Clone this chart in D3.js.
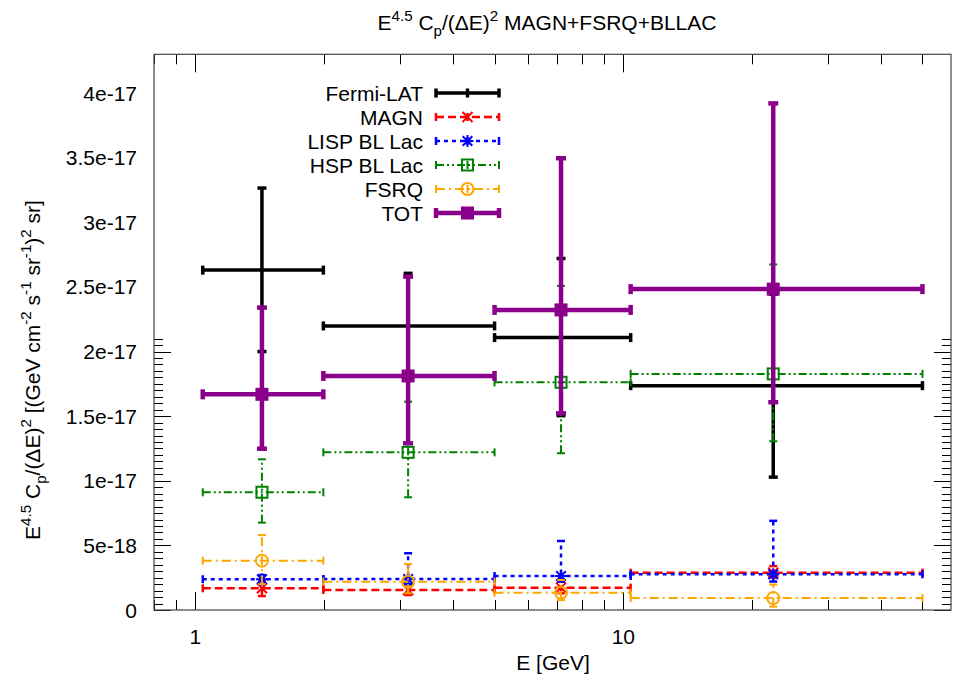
<!DOCTYPE html>
<html><head><meta charset="utf-8">
<script src="https://cdn.jsdelivr.net/npm/d3@7"></script>
<style>
body{margin:0;background:#fff;}
text{font-family:"Liberation Sans",Arial,sans-serif;fill:#000;}
</style></head>
<body>
<svg id="c" width="953" height="677"></svg>
<script>
// ---- data ----
const binEdges = [1.04, 1.99, 5.0, 10.4, 50.0];
const binCenters = [1.43, 3.14, 7.15, 22.4];

const fermiVal = [2.63e-17, 2.198e-17, 2.108e-17, 1.736e-17];
const fermiLo  = [2.0e-17, 1.796e-17, 1.504e-17, 1.028e-17];
const fermiHi  = [3.265e-17, 2.605e-17, 2.72e-17, 2.444e-17];

const magnVal = [0.168e-17, 0.155e-17, 0.173e-17, 0.289e-17];
const magnLo  = [0.108e-17, 0.116e-17, 0.13e-17, 0.25e-17];
const magnHi  = [0.23e-17, 0.20e-17, 0.22e-17, 0.34e-17];

const lispVal = [0.238e-17, 0.24e-17, 0.263e-17, 0.276e-17];
const lispLo  = [0.20e-17, 0.20e-17, 0.22e-17, 0.22e-17];
const lispHi  = [0.27e-17, 0.439e-17, 0.534e-17, 0.69e-17];

const hspVal = [0.911e-17, 1.22e-17, 1.762e-17, 1.827e-17];
const hspLo  = [0.676e-17, 0.872e-17, 1.213e-17, 1.306e-17];
const hspHi  = [1.166e-17, 1.612e-17, 2.508e-17, 2.674e-17];

const fsrqVal = [0.382e-17, 0.219e-17, 0.134e-17, 0.092e-17];
const fsrqLo  = [0.20e-17, 0.129e-17, 0.077e-17, 0.026e-17];
const fsrqHi  = [0.58e-17, 0.356e-17, 0.232e-17, 0.197e-17];

const totVal = [1.669e-17, 1.811e-17, 2.322e-17, 2.483e-17];
const totLo  = [1.248e-17, 1.29e-17, 1.522e-17, 1.608e-17];
const totHi  = [2.34e-17, 2.58e-17, 3.496e-17, 3.92e-17];

const seriesNames = ["Fermi-LAT", "MAGN", "LISP BL Lac", "HSP BL Lac", "FSRQ", "TOT"];

const yTickValues = [0, 5e-18, 1e-17, 1.5e-17, 2e-17, 2.5e-17, 3e-17, 3.5e-17, 4e-17];
const yTickLabels = ["0", "5e-18", "1e-17", "1.5e-17", "2e-17", "2.5e-17", "3e-17", "3.5e-17", "4e-17"];
const xTickValues = [1, 10];
const xTickLabels = ["1", "10"];
const xMinorValues = [0.8, 0.9, 2, 3, 4, 5, 6, 7, 8, 9, 20, 30, 40, 50];

// ---- layout ----
const L = 154, R = 951, T = 54.3, B = 610;
const FS = 21;
const x = d3.scaleLog().domain([0.8, 58.3]).range([L, R]);
const y = d3.scaleLinear().domain([0, 4.3e-17]).range([B, T]);

const svg = d3.select("#c");

// ticks
const tickG = svg.append("g").attr("stroke", "#000").attr("stroke-width", 1);
const yMinor = d3.range(0, 43).map(i => i * 5e-19).filter(v => v <= 4.3e-17);
yMinor.forEach((v, i) => {
  const len = (i % 10 === 0) ? 17 : 9;
  const yy = Math.round(y(v)) + 0.5;
  tickG.append("line").attr("x1", L).attr("x2", L + len).attr("y1", yy).attr("y2", yy);
  tickG.append("line").attr("x1", R).attr("x2", R - len).attr("y1", yy).attr("y2", yy);
});
xMinorValues.concat(xTickValues).forEach(v => {
  const len = xTickValues.includes(v) ? 18 : 10;
  const xx = Math.round(x(v)) + 0.5;
  tickG.append("line").attr("x1", xx).attr("x2", xx).attr("y1", B).attr("y2", B - len);
  tickG.append("line").attr("x1", xx).attr("x2", xx).attr("y1", T).attr("y2", T + len);
});

// frame
svg.append("rect").attr("x", L).attr("y", T).attr("width", R - L).attr("height", B - T)
  .attr("fill", "none").attr("stroke", "#444").attr("stroke-width", 1.2);

// tick labels
yTickValues.forEach((v, i) => {
  svg.append("text").attr("x", 137).attr("y", y(v)).attr("dy", "0.36em")
    .attr("text-anchor", "end").attr("font-size", FS).text(yTickLabels[i]);
});
xTickValues.forEach((v, i) => {
  svg.append("text").attr("x", x(v)).attr("y", 644)
    .attr("text-anchor", "middle").attr("font-size", FS).text(xTickLabels[i]);
});

// rich text helper: parts [text, shift] shift 1=sup, -1=sub
function rich(sel, parts, fs) {
  let cur = 0;
  parts.forEach(([t, s]) => {
    const target = s === 1 ? -0.42 * fs : (s === -1 ? 0.3 * fs : 0);
    sel.append("tspan").attr("dy", target - cur)
      .attr("font-size", s === 0 ? fs : fs * 0.72).text(t);
    cur = target;
  });
}

// title
const title = svg.append("text").attr("x", 547).attr("y", 30).attr("text-anchor", "middle");
rich(title, [["E", 0], ["4.5", 1], [" C", 0], ["p", -1], ["/(ΔE)", 0], ["2", 1], [" MAGN+FSRQ+BLLAC", 0]], FS);

// x label
svg.append("text").attr("x", 553).attr("y", 670).attr("text-anchor", "middle")
  .attr("font-size", FS).text("E [GeV]");

// y label
const yl = svg.append("text").attr("transform", "translate(40,370) rotate(-90)").attr("text-anchor", "middle");
rich(yl, [["E", 0], ["4.5", 1], [" C", 0], ["p", -1], ["/(ΔE)", 0], ["2", 1], [" [(GeV cm", 0], ["-2", 1],
  [" s", 0], ["-1", 1], [" sr", 0], ["-1", 1], [")", 0], ["2", 1], [" sr]", 0]], FS);

// ---- series styles ----
const series = [
  {name: seriesNames[0], val: fermiVal, lo: fermiLo, hi: fermiHi, color: "#000000", w: 3.5, dash: null, marker: "none", cap: 9},
  {name: seriesNames[1], val: magnVal, lo: magnLo, hi: magnHi, color: "#ff0000", w: 2.5, dash: "8,4", marker: "x", cap: 8},
  {name: seriesNames[2], val: lispVal, lo: lispLo, hi: lispHi, color: "#0000ff", w: 2.5, dash: "4,4", marker: "star", cap: 8},
  {name: seriesNames[3], val: hspVal, lo: hspLo, hi: hspHi, color: "#008000", w: 2, dash: "8,3,2,3,2,3", marker: "sq", cap: 8},
  {name: seriesNames[4], val: fsrqVal, lo: fsrqLo, hi: fsrqHi, color: "#ffa500", w: 2, dash: "9,4,2,4", marker: "circ", cap: 8},
  {name: seriesNames[5], val: totVal, lo: totLo, hi: totHi, color: "#8b008b", w: 4.5, dash: null, marker: "fsq", cap: 10}
];

function drawMarker(g, s, cx, cy) {
  if (s.marker === "x") {
    const r = 5;
    g.append("path").attr("d", `M${cx-r},${cy-r}L${cx+r},${cy+r}M${cx-r},${cy+r}L${cx+r},${cy-r}`)
      .attr("stroke", s.color).attr("stroke-width", 2);
  } else if (s.marker === "star") {
    const r = 6;
    g.append("path").attr("d", `M${cx-r},${cy}L${cx+r},${cy}M${cx},${cy-r}L${cx},${cy+r}M${cx-r*0.8},${cy-r*0.8}L${cx+r*0.8},${cy+r*0.8}M${cx-r*0.8},${cy+r*0.8}L${cx+r*0.8},${cy-r*0.8}`)
      .attr("stroke", s.color).attr("stroke-width", 2);
  } else if (s.marker === "sq") {
    g.append("rect").attr("x", cx - 5.5).attr("y", cy - 5.5).attr("width", 11).attr("height", 11)
      .attr("fill", "none").attr("stroke", s.color).attr("stroke-width", 2);
  } else if (s.marker === "circ") {
    g.append("circle").attr("cx", cx).attr("cy", cy).attr("r", 6)
      .attr("fill", "none").attr("stroke", s.color).attr("stroke-width", 2);
  } else if (s.marker === "fsq") {
    g.append("rect").attr("x", cx - 6.5).attr("y", cy - 6.5).attr("width", 13).attr("height", 13)
      .attr("fill", s.color);
  }
}

const dataG = svg.append("g");
series.forEach(s => {
  const g = dataG.append("g").attr("fill", "none");
  const line = (x1, y1, x2, y2, dashed) => g.append("line")
    .attr("x1", x1).attr("y1", y1).attr("x2", x2).attr("y2", y2)
    .attr("stroke", s.color).attr("stroke-width", s.w)
    .attr("stroke-dasharray", dashed ? s.dash : null);
  s.val.forEach((v, i) => {
    const cx = x(binCenters[i]), cy = y(v);
    const x0 = x(binEdges[i]), x1 = x(binEdges[i + 1]);
    const yl0 = y(s.lo[i]), yh = y(s.hi[i]);
    line(x0, cy, x1, cy, true);
    line(cx, yl0, cx, yh, true);
    const c = s.cap / 2;
    line(x0, cy - c, x0, cy + c, false);
    line(x1, cy - c, x1, cy + c, false);
    line(cx - c, yl0, cx + c, yl0, false);
    line(cx - c, yh, cx + c, yh, false);
    drawMarker(g, s, cx, cy);
  });
});

// legend
const legRows = [93, 117, 141, 165, 189, 213];
const lg = svg.append("g");
series.forEach((s, i) => {
  const yy = legRows[i];
  lg.append("text").attr("x", 423).attr("y", yy).attr("dy", "0.36em").attr("text-anchor", "end")
    .attr("font-size", FS).text(s.name);
  const g = lg.append("g");
  g.append("line").attr("x1", 436).attr("x2", 499).attr("y1", yy).attr("y2", yy)
    .attr("stroke", s.color).attr("stroke-width", s.w).attr("stroke-dasharray", s.dash);
  [436, 499].forEach(xx => g.append("line").attr("x1", xx).attr("x2", xx).attr("y1", yy - s.cap / 2).attr("y2", yy + s.cap / 2)
    .attr("stroke", s.color).attr("stroke-width", s.w));
  g.append("line").attr("x1", 467.5).attr("x2", 467.5).attr("y1", yy - s.cap / 2).attr("y2", yy + s.cap / 2)
    .attr("stroke", s.color).attr("stroke-width", s.w);
  drawMarker(g, s, 467.5, yy);
});
</script>
</body></html>
